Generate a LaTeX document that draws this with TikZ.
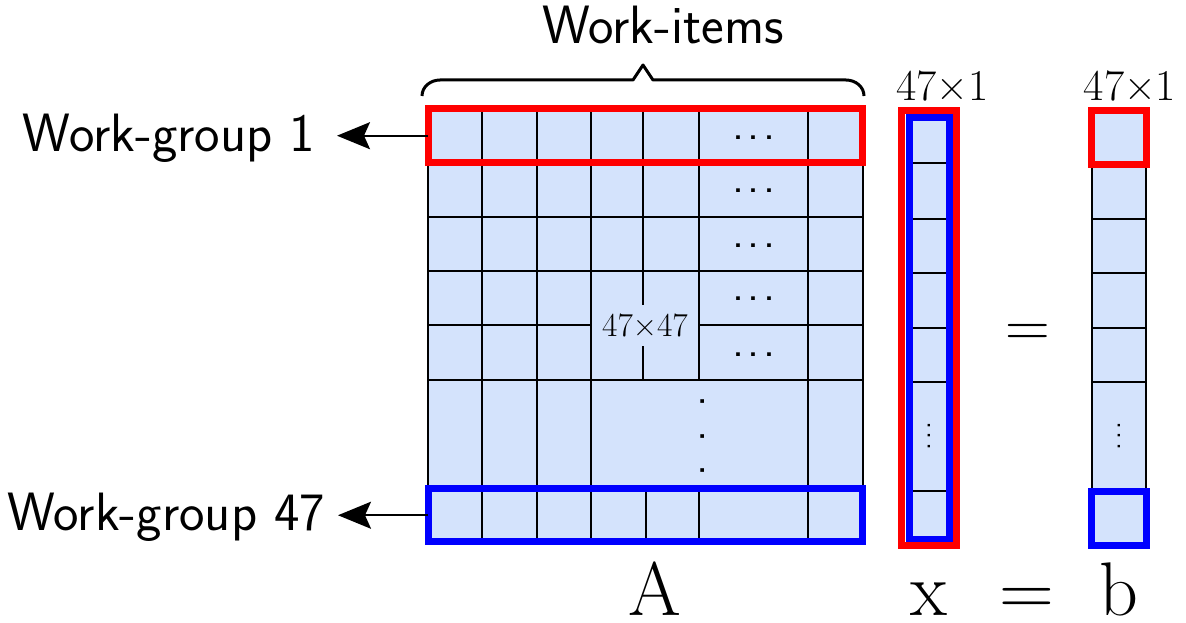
\documentclass[tikz,border=0pt]{standalone}
\usepackage{graphicx}
\usetikzlibrary{arrows.meta}
\definecolor{cellblue}{RGB}{212,227,252}
\definecolor{hlred}{RGB}{255,0,0}
\definecolor{hlblue}{RGB}{0,0,255}
\begin{document}
\begin{tikzpicture}[x=1pt,y=-1pt,
  grid/.style={line width=2pt, black},
  hlbox/.style={draw, line width=7pt, inner sep=0pt, outer sep=0pt},
  sanslabel/.style={font=\sffamily\fontsize{54}{64}\selectfont, inner sep=0pt},
  wglabel/.style={sanslabel, inner xsep=22pt, anchor=base east},
  dimlabel/.style={font=\fontsize{44}{50}\selectfont, inner sep=0pt, anchor=base},
  dotstyle/.style={font=\sffamily\fontsize{46}{46}\selectfont, inner sep=0pt},
  smalldots/.style={font=\sffamily\fontsize{30}{30}\selectfont, inner sep=0pt, rotate=90},
  bigmath/.style={font=\fontsize{76}{90}\selectfont, inner sep=0pt, anchor=base},
  arr/.style={line width=2pt, -{Stealth[length=33pt,width=27pt,inset=6pt]}}
]
\useasboundingbox (0,0) rectangle (1186,623);

% ---- Matrix A ----
\fill[cellblue] (428,108.7) rectangle (862.7,541.7);
\foreach \y in {162.7,216.7,271,325,380} \draw[grid] (428,\y) -- (862.7,\y);
\foreach \x in {482.3,536.7,591,808.3} \draw[grid] (\x,108.7) -- (\x,541.7);
\draw[grid] (643.3,108.7) -- (643.3,380);
\draw[grid] (645.7,488.8) -- (645.7,541.7);
\draw[grid] (699.3,108.7) -- (699.3,380);
\draw[grid] (699.3,488.8) -- (699.3,541.7);
\draw[grid] (428,108.7) rectangle (862.7,541.7);

\node[fill=cellblue, minimum width=106pt, minimum height=41pt, inner sep=0pt,
      font=\fontsize{33.5}{38}\selectfont] (dimA) at (645,325.5) {47×47};

\foreach \y/\n in {138/1,191/2,246/3,299/4,355/5}
  \node[dotstyle] (rowdots\n) at (754,\y) {.\kern4pt.\kern4pt.};
\node[dotstyle, rotate=90] (coldots) at (703,436) {.\kern22.5pt.\kern22.5pt.};

% arrows and labels
\node[wglabel] (wg1) at (337,152) {Work-group 1};
\node[wglabel, inner xsep=13pt] (wg47) at (338,530) {Work-group 47};

\node[hlbox, draw=hlred, minimum width=434.7pt, minimum height=54pt] (wg1box) at (645.35,135.7) {};
\node[hlbox, draw=hlblue, minimum width=434.7pt, minimum height=52.9pt] (wg47box) at (645.35,515.25) {};

\draw[arr] (wg1box.west) -- (wg1.east |- wg1box.west);
\draw[arr] (wg47box.west) -- (wg47.east |- wg47box.west);

% brace and Work-items
\draw[line width=3pt, line join=round] (422,96) to[out=90,in=180] (440,80) -- (633,80) -- (643,65) -- (653,80) -- (846,80) to[out=0,in=90] (864,96);
\node[sanslabel, anchor=base] (witems) at (663,44) {Work-items};

% ---- Vector x ----
\fill[cellblue] (909.3,117.3) rectangle (949.3,539);
\foreach \y in {162.7,219,273,328,382,491} \draw[grid] (909.3,\y) -- (949.3,\y);
\node[smalldots] (xdots) at (929,436) {.\kern2.4pt.\kern2.4pt.};
\node[hlbox, draw=hlblue, minimum width=40pt, minimum height=421.7pt] (xblue) at (929.3,328.15) {};
\node[hlbox, draw=hlred, minimum width=54.4pt, minimum height=434pt] (xred) at (929,328) {};
\node[dimlabel] (dimx) at (942.5,100.5) {47×1};

% ---- Vector b ----
\fill[cellblue] (1092,111) rectangle (1146,545);
\draw[grid] (1092,165) -- (1092,491);
\draw[grid] (1146,165) -- (1146,491);
\foreach \y in {219.3,273.3,327.7,382.3} \draw[grid] (1092,\y) -- (1146,\y);
\node[smalldots] (bdots) at (1119.3,436) {.\kern2.4pt.\kern2.4pt.};
\node[hlbox, draw=hlred, minimum width=55.2pt, minimum height=53.7pt] (bred) at (1119.1,137.85) {};
\node[hlbox, draw=hlblue, minimum width=54.5pt, minimum height=54pt] (bblue) at (1118.8,518) {};
\node[dimlabel] (dimb) at (1130,100.5) {47×1};

% equals and bottom labels
\node[font=\fontsize{62}{70}\selectfont, anchor=base, inner sep=0pt] (eqmid) at (1028,346) {=};
\node[bigmath] (labA) at (655,615) {A};
\node[bigmath] (labx) at (928.5,615) {x};
\node[bigmath] (labeq) at (1026.5,615) {=};
\node[bigmath] (labb) at (1119,615) {b};
\end{tikzpicture}
\end{document}
